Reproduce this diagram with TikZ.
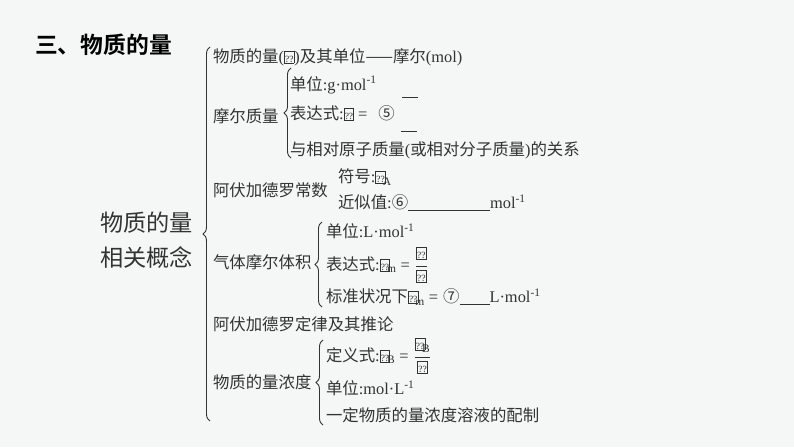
\documentclass[tikz,border=0pt]{standalone}
\usepackage{fontspec}
\setmainfont{Noto Sans CJK SC}[BoldFont={Noto Sans CJK SC Bold}]
\newfontfamily\latf{Liberation Serif}
\usetikzlibrary{decorations.pathreplacing}
\definecolor{bg}{HTML}{F4F7F6}
\definecolor{txt}{HTML}{333333}
\newcommand{\lt}[1]{{\latf #1}}
\newcommand{\mg}{{\setlength{\fboxsep}{0.3pt}\setlength{\fboxrule}{0.7pt}\fbox{\rule{0pt}{10.5pt}\fontsize{9.5}{9.5}\selectfont\lt{??}}}}
\newcommand{\msub}[1]{\hspace{-3pt}\textsubscript{\lt{#1}}}
\newcommand{\eqs}{\lt{\hspace{4pt}=\hspace{5pt}}}
\begin{document}
\begin{tikzpicture}[x=1pt,y=-1pt,
  every node/.style={inner sep=0pt, outer sep=0pt, text=txt},
  item/.style={anchor=west, font=\fontsize{16.4}{19}\selectfont},
  bracepath/.style={decorate, decoration={brace, amplitude=7pt}, draw=txt, line width=0.9pt},
  blank/.style={draw=txt, line width=1pt}]
\fill[bg] (0,0) rectangle (794,447);
\useasboundingbox (0,0) rectangle (794,447);

\node[anchor=west, font=\fontsize{22.8}{26}\selectfont\bfseries, text=black] (title) at (35,45) {三、物质的量};
\node[anchor=east, font=\fontsize{23.2}{35}\selectfont, align=center] (root) at (193,240) {物质的量\\相关概念};

% level 1
\node[item] (a1) at (213,57) {物质的量\lt{(}\mg\lt{)}及其单位——摩尔\lt{(mol)}};
\node[item] (a2) at (213,116) {摩尔质量};
\node[item] (a3) at (213,190) {阿伏加德罗常数};
\node[item] (a4) at (213,262) {气体摩尔体积};
\node[item] (a5) at (213,324) {阿伏加德罗定律及其推论};
\node[item] (a6) at (213,382) {物质的量浓度};

% 摩尔质量
\node[item] (b1) at (290,85) {单位\lt{:g·mol\textsuperscript{-1}}};
\node[item] (b2) at (290,113) {表达式\lt{:}\mg\eqs\hspace{6pt}⑤};
\node[item] (b3) at (290,150) {与相对原子质量\lt{(}或相对分子质量\lt{)}的关系};
\coordinate (bl1a) at (402,97); \coordinate (bl1b) at (418,97);
\coordinate (bl2a) at (401,131); \coordinate (bl2b) at (417,131);
\draw[blank] (bl1a) -- (bl1b);
\draw[blank] (bl2a) -- (bl2b);

% 阿伏加德罗常数
\node[item] (c1) at (338,177) {符号\lt{:}\mg\msub{A}};
\node[item] (c2) at (338,203) {近似值\lt{:}⑥\underline{\hspace{82pt}}\lt{mol\textsuperscript{-1}}};

% 气体摩尔体积
\node[item] (d1) at (326,231) {单位\lt{:L·mol\textsuperscript{-1}}};
\node[item] (d2) at (326,265) {表达式\lt{:}\mg\msub{m}\eqs$\displaystyle\frac{\mbox{\mg}}{\mbox{\mg}}$};
\node[item] (d3) at (326,297) {标准状况下\mg\msub{m}\eqs⑦\underline{\hspace{30pt}}\lt{L·mol\textsuperscript{-1}}};

% 物质的量浓度
\node[item] (e1) at (326,356) {定义式\lt{:}\mg\msub{B}\eqs$\displaystyle\frac{\mbox{\mg\msub{B}}}{\mbox{\mg}}$};
\node[item] (e2) at (326,388) {单位\lt{:mol·L\textsuperscript{-1}}};
\node[item] (e3) at (326,415) {一定物质的量浓度溶液的配制};

% braces
\coordinate (B1s) at (210,421); \coordinate (B1e) at (210,47);
\coordinate (B2s) at (291,158); \coordinate (B2e) at (291,68);
\coordinate (B3s) at (322,307); \coordinate (B3e) at (322,222);
\coordinate (B4s) at (323,425); \coordinate (B4e) at (323,340);
\draw[bracepath] (B1s) -- (B1e);
\draw[bracepath] (B2s) -- (B2e);
\draw[bracepath] (B3s) -- (B3e);
\draw[bracepath] (B4s) -- (B4e);
\end{tikzpicture}
\end{document}
